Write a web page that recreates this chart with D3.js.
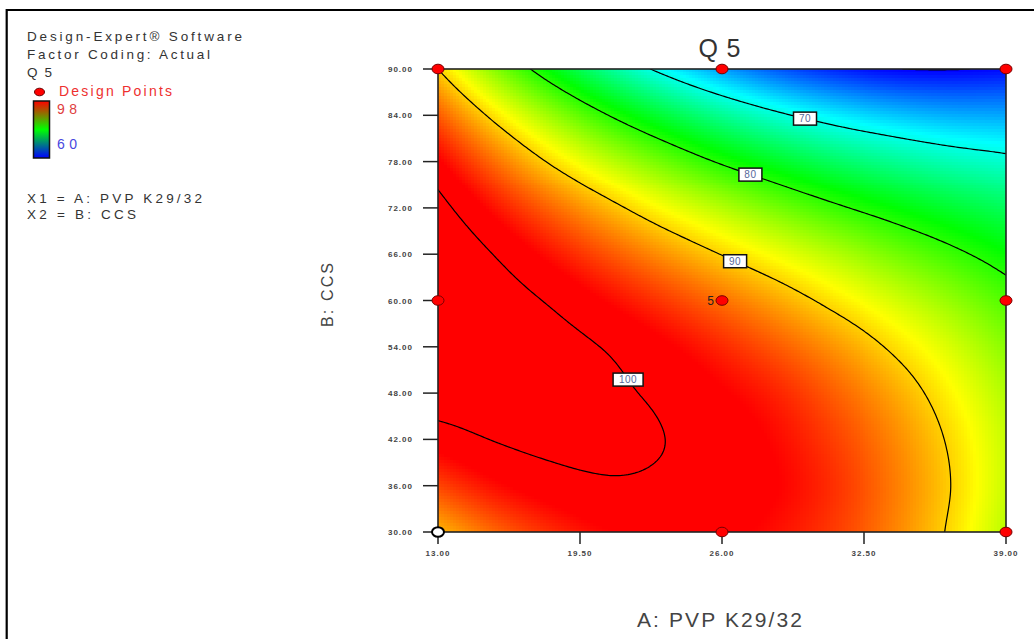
<!DOCTYPE html>
<html>
<head>
<meta charset="utf-8">
<script src="https://cdn.jsdelivr.net/npm/d3@7"></script>
<style>
  body { margin: 0; background: #fff; }
  svg { display: block; }
  text { font-family: Arial, "Liberation Sans", sans-serif; }
</style>
</head>
<body>
<div id="chart"></div>
<script>
/* Data */
let gridA = [13, 15.6, 18.2, 20.8, 23.4, 26, 28.6, 31.2, 33.8, 36.4, 39];
let gridB = [30, 36, 42, 48, 54, 60, 66, 72, 78, 84, 90];
// Q5 estimated at every grid node, one row per B (bottom row first), one column per A
let q5Grid = [
    [91.0, 94.1, 96.4, 97.9, 98.5, 98.4, 97.4, 95.7, 93.1, 89.7, 85.5],
    [95.4, 97.6, 99.0, 99.7, 99.6, 99.2, 98.0, 96.1, 93.4, 90.1, 86.1],
    [98.9, 100.1, 100.7, 100.7, 100.0, 99.1, 97.6, 95.5, 92.9, 89.7, 86.0],
    [101.3, 101.5, 101.4, 100.5, 99.5, 98.2, 96.6, 94.3, 91.7, 88.6, 85.2],
    [102.7, 102.0, 101.0, 99.8, 98.3, 96.5, 94.5, 92.2, 89.6, 86.8, 83.7],
    [103.1, 101.4, 99.7, 97.8, 95.8, 93.7, 91.5, 89.1, 86.7, 84.2, 81.5],
    [102.5, 99.9, 97.3, 94.8, 92.3, 89.9, 87.6, 85.3, 83.0, 80.8, 78.6],
    [100.9, 97.3, 94.0, 90.9, 87.9, 85.3, 82.8, 80.5, 78.5, 76.7, 75.1],
    [98.3, 93.8, 89.6, 85.9, 82.6, 79.6, 77.1, 74.9, 73.2, 71.8, 70.8],
    [94.6, 89.2, 84.3, 80.0, 76.3, 73.1, 70.5, 68.5, 67.1, 66.2, 65.9],
    [90.0, 83.6, 78.0, 73.1, 69.0, 65.6, 63.0, 61.2, 60.1, 59.9, 60.3]
];

let contourLevels = [60, 70, 80, 90, 100];
// where each contour label sits (A, B)
let labelLevels = [70, 80, 90, 100];
let labelA = [29.9, 27.3, 26.6, 21.6];
let labelB = [84.2, 76.7, 65.1, 49.5];

let designA = [13, 26, 39, 13, 26, 39, 13, 26, 39];
let designB = [30, 30, 30, 60, 60, 60, 90, 90, 90];
let designRuns = [1, 1, 1, 1, 5, 1, 1, 1, 1];
let belowPrediction = [true, false, false, false, false, false, false, false, false];

let xTicks = [13, 19.5, 26, 32.5, 39];
let yTicks = [30, 36, 42, 48, 54, 60, 66, 72, 78, 84, 90];
let legendHigh = 98;
let legendLow = 60;

/* Drawing config */
let svgWidth = 1034;
let svgHeight = 639;
let plotLeft = 438, plotRight = 1006, plotTop = 69, plotBottom = 532;
let plotW = plotRight - plotLeft, plotH = plotBottom - plotTop;

let svg = d3.select("#chart")
    .append("svg")
    .attr("width", svgWidth)
    .attr("height", svgHeight);

let xScale = d3.scaleLinear()
    .domain([gridA[0], gridA[gridA.length - 1]])
    .range([plotLeft, plotRight]);

let yScale = d3.scaleLinear()
    .domain([gridB[0], gridB[gridB.length - 1]])
    .range([plotBottom, plotTop]);

// Design-Expert rainbow: blue (low) -> cyan -> green -> yellow -> red (high)
let colorScale = d3.scaleLinear()
    .domain([legendLow, 69, 78.5, 88.2, legendHigh])
    .range(["#0000ff", "#00ffff", "#00ff00", "#ffff00", "#ff0000"])
    .clamp(true);

// smooth (Catmull-Rom) lookup in the grid
function node(i, j) {
    let ni = gridA.length, nj = gridB.length;
    // extend the grid linearly past its edges
    if (i < 0) return 2 * node(0, j) - node(1, j);
    if (i > ni - 1) return 2 * node(ni - 1, j) - node(ni - 2, j);
    if (j < 0) return 2 * node(i, 0) - node(i, 1);
    if (j > nj - 1) return 2 * node(i, nj - 1) - node(i, nj - 2);
    return q5Grid[j][i];
}
function cr(p0, p1, p2, p3, t) {
    return 0.5 * (2 * p1 + (p2 - p0) * t + (2 * p0 - 5 * p1 + 4 * p2 - p3) * t * t + (3 * p1 - p0 - 3 * p2 + p3) * t * t * t);
}
function q5At(a, b) {
    let fi = (a - gridA[0]) / (gridA[1] - gridA[0]);
    let fj = (b - gridB[0]) / (gridB[1] - gridB[0]);
    fi = Math.max(0, Math.min(gridA.length - 1, fi));
    fj = Math.max(0, Math.min(gridB.length - 1, fj));
    let i = Math.min(Math.floor(fi), gridA.length - 2);
    let j = Math.min(Math.floor(fj), gridB.length - 2);
    let tx = fi - i, ty = fj - j;
    let rowVals = [];
    for (let m = -1; m <= 2; m++) {
        rowVals.push(cr(node(i - 1, j + m), node(i, j + m), node(i + 1, j + m), node(i + 2, j + m), tx));
    }
    return cr(rowVals[0], rowVals[1], rowVals[2], rowVals[3], ty);
}

/* Outer frame */
svg.append("path")
    .attr("d", "M6.7," + svgHeight + "V10H" + svgWidth)
    .attr("fill", "none")
    .attr("stroke", "#000")
    .attr("stroke-width", 2.2);

/* Heat map, blocky like the original */
let cols = 190, rows = 155;
let canvas = document.createElement("canvas");
canvas.width = cols;
canvas.height = rows;
let ctx = canvas.getContext("2d");
let img = ctx.createImageData(cols, rows);
for (let r = 0; r < rows; r++) {
    for (let c = 0; c < cols; c++) {
        let a = xScale.invert(plotLeft + (c + 0.5) * plotW / cols);
        let b = yScale.invert(plotTop + (r + 0.5) * plotH / rows);
        let col = d3.rgb(colorScale(q5At(a, b)));
        let k = (r * cols + c) * 4;
        img.data[k] = col.r;
        img.data[k + 1] = col.g;
        img.data[k + 2] = col.b;
        img.data[k + 3] = 255;
    }
}
ctx.putImageData(img, 0, 0);

svg.append("image")
    .attr("href", canvas.toDataURL())
    .attr("x", plotLeft).attr("y", plotTop)
    .attr("width", plotW).attr("height", plotH)
    .attr("preserveAspectRatio", "none")
    .style("image-rendering", "pixelated");

/* Contour lines */
svg.append("clipPath").attr("id", "plotClip")
    .append("rect")
    .attr("x", plotLeft).attr("y", plotTop)
    .attr("width", plotW).attr("height", plotH);

let nA = 261, nB = 241;
let stepA = (gridA[gridA.length - 1] - gridA[0]) / (nA - 1);
let stepB = (gridB[gridB.length - 1] - gridB[0]) / (nB - 1);
let fine = new Float64Array(nA * nB);
for (let j = 0; j < nB; j++) {
    for (let i = 0; i < nA; i++) {
        fine[j * nA + i] = q5At(gridA[0] + i * stepA, gridB[0] + j * stepB);
    }
}
let contours = d3.contours().size([nA, nB]).thresholds(contourLevels)(fine);

function toPixel(x, y) {
    return [xScale(gridA[0] + (x - 0.5) * stepA), yScale(gridB[0] + (y - 0.5) * stepB)];
}
let path = d3.geoPath(d3.geoTransform({
    point: function(x, y) {
        let p = toPixel(x, y);
        this.stream.point(p[0], p[1]);
    }
}));

svg.append("g")
    .attr("clip-path", "url(#plotClip)")
    .selectAll("path")
    .data(contours)
    .enter()
    .append("path")
    .attr("d", path)
    .attr("fill", "none")
    .attr("stroke", "#000")
    .attr("stroke-width", 1.2);

/* Plot border */
svg.append("rect")
    .attr("x", plotLeft).attr("y", plotTop)
    .attr("width", plotW).attr("height", plotH)
    .attr("fill", "none")
    .attr("stroke", "#222")
    .attr("stroke-width", 1.6);

/* Contour labels, snapped to the nearest point of their line */
labelLevels.forEach(function(level, i) {
    let target = [xScale(labelA[i]), yScale(labelB[i])];
    let contour = contours.find(function(d) { return d.value == level; });
    let best = target, bestDist = Infinity;
    contour.coordinates.forEach(function(poly) {
        poly.forEach(function(ring) {
            ring.forEach(function(pt) {
                let p = toPixel(pt[0], pt[1]);
                if (p[0] <= plotLeft + 1 || p[0] >= plotRight - 1 || p[1] <= plotTop + 1 || p[1] >= plotBottom - 1) return;
                let d = (p[0] - target[0]) ** 2 + (p[1] - target[1]) ** 2;
                if (d < bestDist) { bestDist = d; best = p; }
            });
        });
    });
    let g = svg.append("g").attr("transform", `translate(${best[0]}, ${best[1]})`);
    let boxW = String(level).length * 7 + 9;
    g.append("rect")
        .attr("x", -boxW / 2).attr("y", -6.5)
        .attr("width", boxW).attr("height", 13)
        .attr("fill", "#fff")
        .attr("stroke", "#111")
        .attr("stroke-width", 1.5);
    g.append("text")
        .attr("y", 3.5)
        .attr("text-anchor", "middle")
        .attr("font-size", "10px")
        .attr("letter-spacing", "0.5px")
        .attr("fill", "#56689a")
        .text(level);
});

/* Axes */
let yAxis = svg.append("g");
yAxis.selectAll("line")
    .data(yTicks)
    .enter()
    .append("line")
    .attr("x1", plotLeft - 15).attr("x2", plotLeft)
    .attr("y1", d => yScale(d)).attr("y2", d => yScale(d))
    .attr("stroke", "#222").attr("stroke-width", 1.5);
yAxis.selectAll("text")
    .data(yTicks)
    .enter()
    .append("text")
    .attr("x", plotLeft - 25)
    .attr("y", d => yScale(d) + 3)
    .attr("text-anchor", "end")
    .attr("font-family", "'DejaVu Sans', sans-serif")
    .attr("font-size", "8px")
    .attr("font-weight", "bold")
    .attr("letter-spacing", "1px")
    .attr("fill", "#444")
    .text(d => d.toFixed(2));

let xAxis = svg.append("g");
xAxis.selectAll("line")
    .data(xTicks)
    .enter()
    .append("line")
    .attr("x1", d => xScale(d)).attr("x2", d => xScale(d))
    .attr("y1", plotBottom).attr("y2", plotBottom + 12)
    .attr("stroke", "#222").attr("stroke-width", 1.5);
xAxis.selectAll("text")
    .data(xTicks)
    .enter()
    .append("text")
    .attr("x", d => xScale(d))
    .attr("y", plotBottom + 24)
    .attr("text-anchor", "middle")
    .attr("font-family", "'DejaVu Sans', sans-serif")
    .attr("font-size", "8px")
    .attr("font-weight", "bold")
    .attr("letter-spacing", "1px")
    .attr("fill", "#444")
    .text(d => d.toFixed(2));

/* Design points */
svg.selectAll(".point")
    .data(designA)
    .enter()
    .append("ellipse")
    .attr("cx", d => xScale(d))
    .attr("cy", (d, i) => yScale(designB[i]))
    .attr("rx", 6).attr("ry", 4.8)
    .attr("fill", (d, i) => belowPrediction[i] ? "#fff" : "#ff0000")
    .attr("stroke", (d, i) => belowPrediction[i] ? "#000" : "#700")
    .attr("stroke-width", (d, i) => belowPrediction[i] ? 2 : 1);

// replicate count next to a point run more than once
designRuns.forEach(function(n, i) {
    if (n < 2) return;
    svg.append("text")
        .attr("x", xScale(designA[i]) - 8)
        .attr("y", yScale(designB[i]) + 4)
        .attr("text-anchor", "end")
        .attr("font-size", "12px")
        .attr("fill", "#222")
        .text(n);
});

/* Titles */
svg.append("text")
    .attr("x", 719.5).attr("y", 57)
    .attr("text-anchor", "middle")
    .attr("font-size", "25px")
    .attr("fill", "#333")
    .attr("textLength", 42)
    .text("Q5");

svg.append("text")
    .attr("x", 637).attr("y", 626.5)
    .attr("font-size", "21px")
    .attr("fill", "#444")
    .attr("textLength", 165)
    .text("A: PVP K29/32");

svg.append("text")
    .attr("transform", "translate(333, 327) rotate(-90)")
    .attr("font-size", "16px")
    .attr("fill", "#444")
    .attr("textLength", 64)
    .text("B: CCS");

/* Side panel */
let infoLines = ["Design-Expert® Software", "Factor Coding: Actual", "Q5"];
let infoWidths = [215, 183, 25];
let infoY = [40.5, 58.5, 76.5];
infoLines.forEach(function(t, i) {
    svg.append("text")
        .attr("x", 27).attr("y", infoY[i])
        .attr("font-size", "13.5px")
        .attr("fill", "#333")
        .attr("textLength", infoWidths[i])
        .text(t);
});

svg.append("ellipse")
    .attr("cx", 39.5).attr("cy", 92)
    .attr("rx", 5).attr("ry", 3.8)
    .attr("fill", "#ff0000")
    .attr("stroke", "#600").attr("stroke-width", 1);

svg.append("text")
    .attr("x", 59).attr("y", 96)
    .attr("font-size", "14px")
    .attr("fill", "#ee3030")
    .attr("textLength", 113)
    .text("Design Points");

let grad = svg.append("defs").append("linearGradient")
    .attr("id", "legendGrad")
    .attr("x1", 0).attr("y1", 0).attr("x2", 0).attr("y2", 1);
grad.append("stop").attr("offset", "0%").attr("stop-color", "#ff0000");
grad.append("stop").attr("offset", "50%").attr("stop-color", "#00ff00");
grad.append("stop").attr("offset", "100%").attr("stop-color", "#0000ff");

svg.append("rect")
    .attr("x", 33.5).attr("y", 101)
    .attr("width", 16).attr("height", 57)
    .attr("fill", "url(#legendGrad)")
    .attr("stroke", "#111")
    .attr("stroke-width", 1.5);

svg.append("text")
    .attr("x", 57).attr("y", 114)
    .attr("font-size", "14px")
    .attr("fill", "#e04040")
    .attr("textLength", 20)
    .text(legendHigh);

svg.append("text")
    .attr("x", 57).attr("y", 149)
    .attr("font-size", "14px")
    .attr("fill", "#4848e0")
    .attr("textLength", 20)
    .text(legendLow);

let factorLines = ["X1 = A: PVP K29/32", "X2 = B: CCS"];
let factorWidths = [175, 109];
let factorY = [202.5, 218.5];
factorLines.forEach(function(t, i) {
    svg.append("text")
        .attr("x", 27).attr("y", factorY[i])
        .attr("font-size", "13.5px")
        .attr("fill", "#333")
        .attr("textLength", factorWidths[i])
        .text(t);
});
</script>
</body>
</html>
